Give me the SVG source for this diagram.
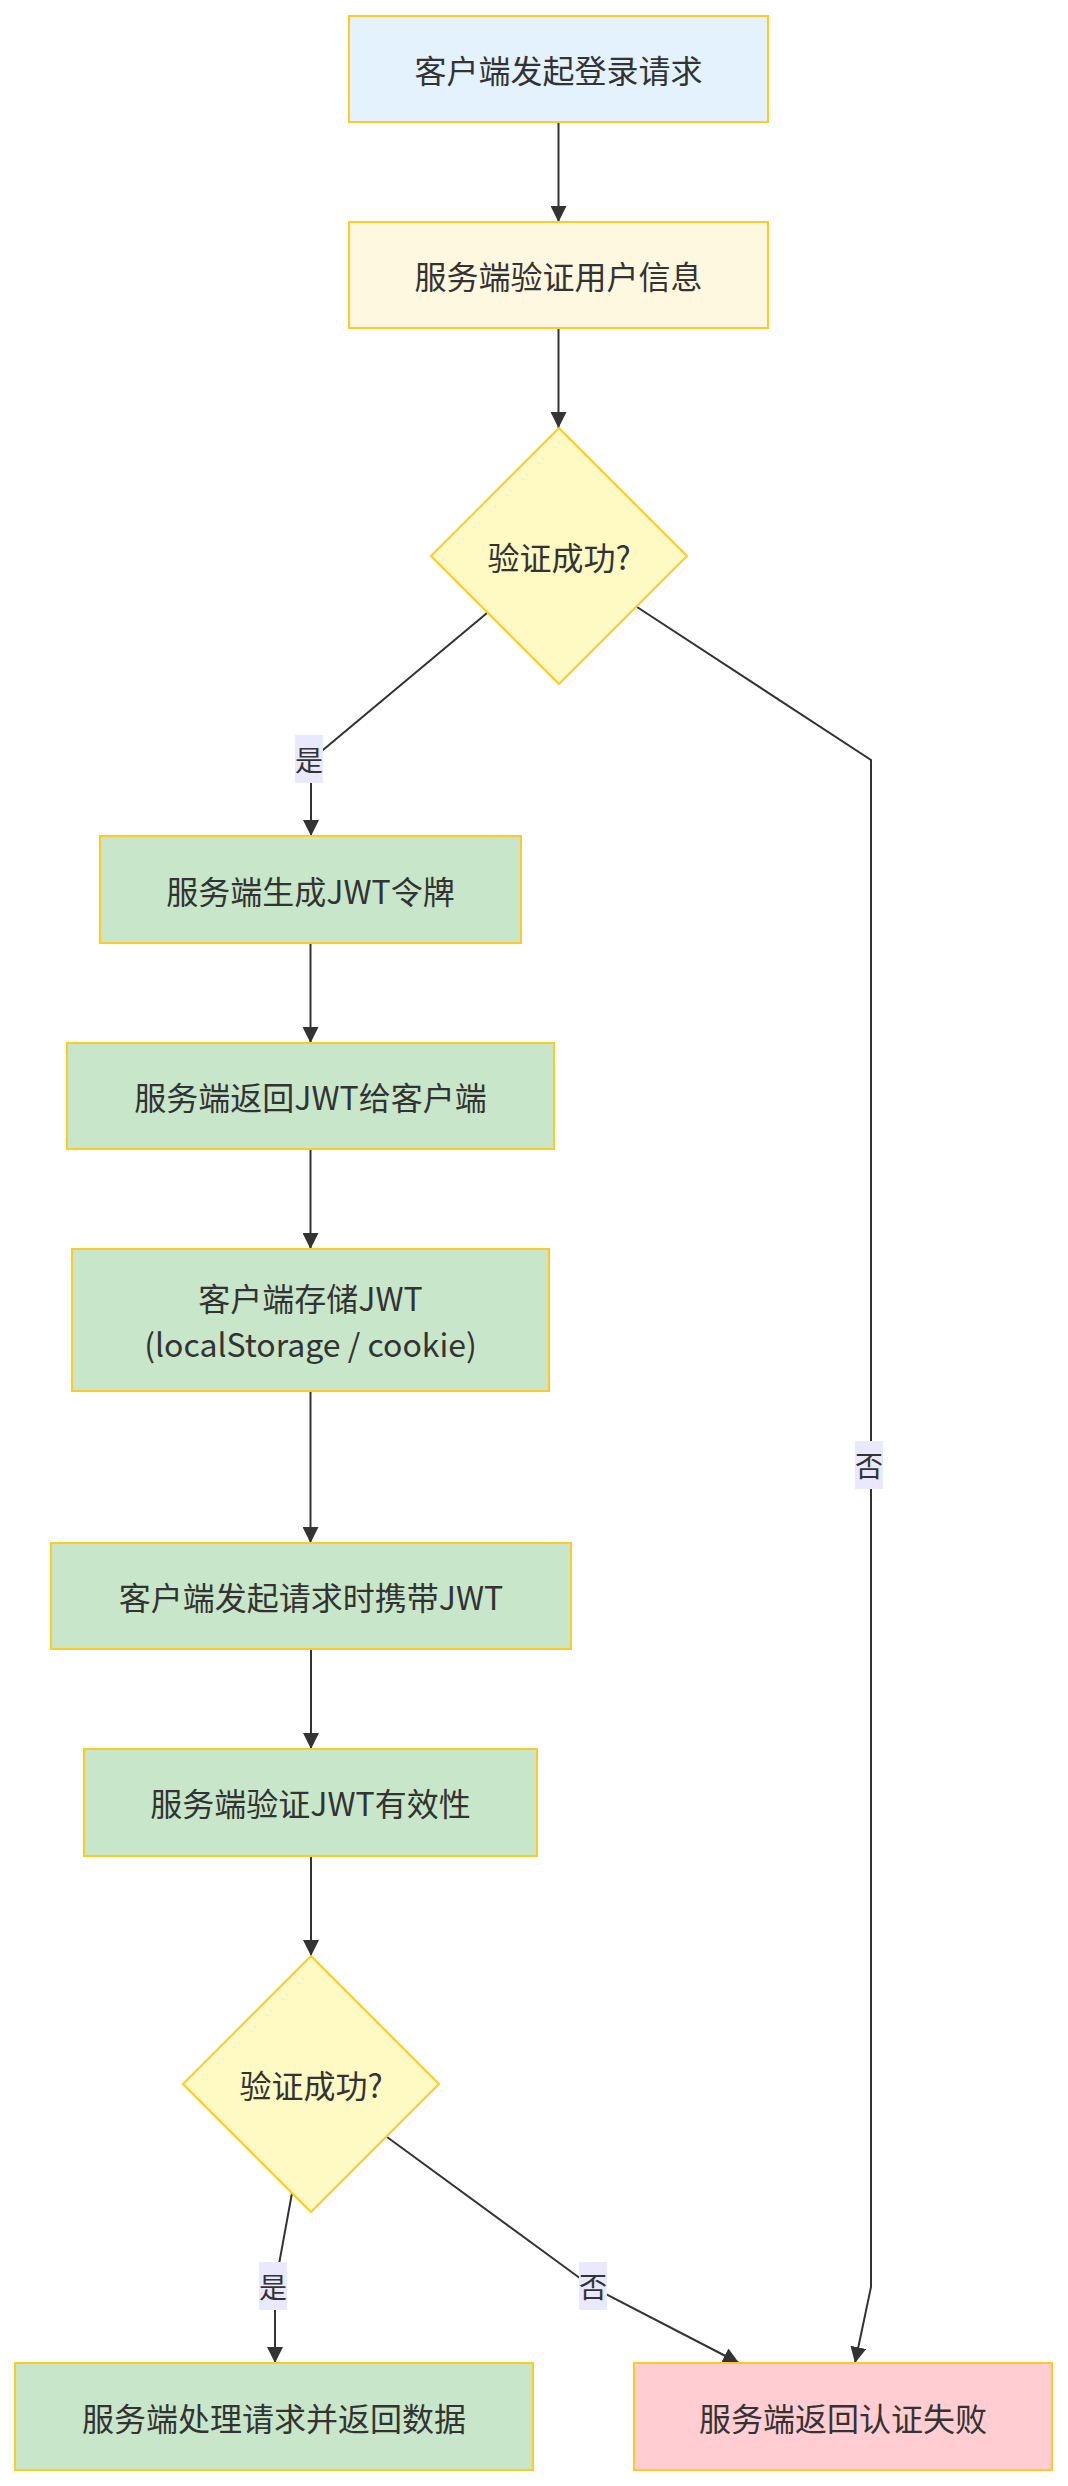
<svg xmlns="http://www.w3.org/2000/svg" width="1068" height="2486" viewBox="0 0 1068 2486">
<style>
  .node rect, .node polygon { stroke: #FFCA28; stroke-width: 2; }
  .start { fill: #E3F2FD; }
  .verify { fill: #FFF8E1; }
  .dec { fill: #FFF9C4; }
  .ok { fill: #C8E6C9; }
  .fail { fill: #FFCDD2; }
  .t { font-family: "Noto Sans CJK SC", "Noto Sans", sans-serif; font-size: 32px; fill: #333333; text-anchor: middle; dominant-baseline: central; }
  .edge { fill: none; stroke: #333333; stroke-width: 2; }
  .lbl rect { fill: #E8E8FF; }
  .lt { font-family: "Noto Sans CJK SC", "Noto Sans", sans-serif; font-size: 28px; fill: #333333; text-anchor: middle; dominant-baseline: central; }
</style>
<defs>
  <marker id="arrow" viewBox="0 0 10 10" refX="10" refY="5" markerUnits="userSpaceOnUse" markerWidth="16" markerHeight="16" orient="auto">
    <path d="M0,0 L10,5 L0,10 z" fill="#333333"/>
  </marker>
</defs>
<rect width="1068" height="2486" fill="#ffffff"/>

<g id="connectors">
  <path class="edge" d="M558.5,122 L558.5,222" marker-end="url(#arrow)"/>
  <path class="edge" d="M558.5,328 L558.5,428" marker-end="url(#arrow)"/>
  <path class="edge" d="M487,613 L311,760 L311,836" marker-end="url(#arrow)"/>
  <path class="edge" d="M310.5,943 L310.5,1043" marker-end="url(#arrow)"/>
  <path class="edge" d="M310.5,1149 L310.5,1249" marker-end="url(#arrow)"/>
  <path class="edge" d="M310.5,1391 L310.5,1543" marker-end="url(#arrow)"/>
  <path class="edge" d="M311,1649 L311,1749" marker-end="url(#arrow)"/>
  <path class="edge" d="M311,1856 L311,1956" marker-end="url(#arrow)"/>
  <path class="edge" d="M292,2193 L275,2286 L275,2363" marker-end="url(#arrow)"/>
  <path class="edge" d="M387,2137 L592,2287 L739,2363" marker-end="url(#arrow)"/>
  <path class="edge" d="M637,607 L871,760 L871,2287 L855,2363" marker-end="url(#arrow)"/>
  <g class="lbl" id="label-yes-1"><rect x="295" y="735" width="28" height="48"/><text class="lt" x="309" y="759">是</text></g>
  <g class="lbl" id="label-no-1"><rect x="855" y="1441" width="28" height="48"/><text class="lt" x="869" y="1465">否</text></g>
  <g class="lbl" id="label-yes-2"><rect x="259" y="2262" width="28" height="48"/><text class="lt" x="273" y="2286">是</text></g>
  <g class="lbl" id="label-no-2"><rect x="579" y="2262" width="28" height="48"/><text class="lt" x="593" y="2286">否</text></g>
</g>

<g id="n1" class="node"><rect class="start" x="349" y="16" width="419" height="106"/><text class="t" x="558.5" y="69">客户端发起登录请求</text></g>
<g id="n2" class="node"><rect class="verify" x="349" y="222" width="419" height="106"/><text class="t" x="558.5" y="275">服务端验证用户信息</text></g>
<g id="d1" class="node"><polygon class="dec" points="559,428 687,556 559,684 431,556"/><text class="t" x="559" y="556">验证成功?</text></g>
<g id="n3" class="node"><rect class="ok" x="100" y="836" width="421" height="107"/><text class="t" x="310.5" y="889.5">服务端生成JWT令牌</text></g>
<g id="n4" class="node"><rect class="ok" x="67" y="1043" width="487" height="106"/><text class="t" x="310.5" y="1096">服务端返回JWT给客户端</text></g>
<g id="n5" class="node"><rect class="ok" x="72" y="1249" width="477" height="142"/><text class="t" x="310.5" y="1297">客户端存储JWT</text><text class="t" x="310.5" y="1343">(localStorage / cookie)</text></g>
<g id="n6" class="node"><rect class="ok" x="51" y="1543" width="520" height="106"/><text class="t" x="311" y="1596">客户端发起请求时携带JWT</text></g>
<g id="n7" class="node"><rect class="ok" x="84" y="1749" width="453" height="107"/><text class="t" x="310.5" y="1802">服务端验证JWT有效性</text></g>
<g id="d2" class="node"><polygon class="dec" points="311,1956 439,2084 311,2212 183,2084"/><text class="t" x="311" y="2084">验证成功?</text></g>
<g id="n8" class="node"><rect class="ok" x="15" y="2363" width="518" height="107"/><text class="t" x="274" y="2416.5">服务端处理请求并返回数据</text></g>
<g id="n9" class="node"><rect class="fail" x="634" y="2363" width="418" height="107"/><text class="t" x="843" y="2416.5">服务端返回认证失败</text></g>
</svg>
